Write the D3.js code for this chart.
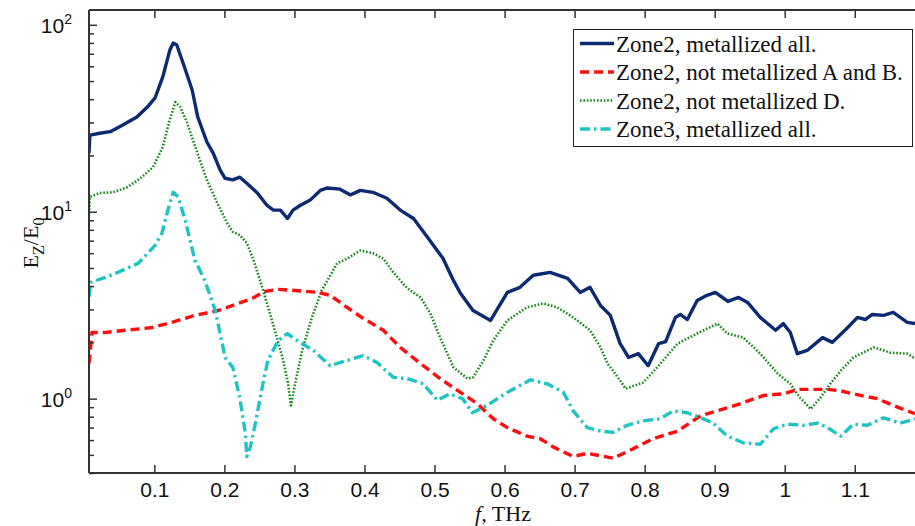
<!DOCTYPE html>
<html><head><meta charset="utf-8">
<script src="https://cdn.jsdelivr.net/npm/d3@7/dist/d3.min.js"></script>
<style>
html,body{margin:0;padding:0;background:#fff;}
svg{display:block;}
</style></head>
<body><svg id="chart" width="915" height="526"></svg>
<script>
// ---- data (frequency in THz, Ez/E0) ----
const fBlue = [0.0067,0.008,0.022,0.037,0.055,0.075,0.090,0.101,0.112,0.122,0.127,0.132,0.141,0.154,0.162,0.175,0.184,0.194,0.201,0.212,0.222,0.232,0.247,0.261,0.270,0.280,0.290,0.298,0.308,0.322,0.337,0.347,0.365,0.380,0.394,0.412,0.432,0.451,0.470,0.490,0.512,0.527,0.537,0.555,0.580,0.604,0.622,0.641,0.665,0.690,0.708,0.722,0.737,0.751,0.765,0.777,0.791,0.805,0.820,0.830,0.844,0.851,0.861,0.875,0.889,0.901,0.919,0.934,0.947,0.965,0.987,0.998,1.008,1.018,1.032,1.054,1.068,1.090,1.104,1.115,1.125,1.141,1.155,1.175,1.186];
const vBlue = [20.6,25.7,26.3,26.8,29.1,32.1,36.3,40.6,52.6,73,80,78,62.5,44.8,32.1,23.6,20.6,16.7,15.1,14.8,15.3,14.2,12.6,10.8,10.2,10.2,9.2,10.2,10.8,11.5,13.0,13.4,13.2,12.3,13.0,12.7,11.8,10.2,9.2,7.3,5.63,4.29,3.66,2.96,2.62,3.70,3.94,4.57,4.74,4.40,3.70,3.94,3.15,2.79,1.97,1.66,1.74,1.50,1.97,2.02,2.72,2.82,2.65,3.35,3.57,3.70,3.31,3.48,3.27,2.72,2.32,2.52,2.26,1.74,1.81,2.12,2.00,2.40,2.72,2.65,2.82,2.79,2.89,2.56,2.52];

const fRed = [0.0067,0.011,0.030,0.058,0.097,0.125,0.158,0.191,0.220,0.240,0.258,0.277,0.301,0.334,0.351,0.375,0.398,0.427,0.451,0.480,0.508,0.537,0.561,0.584,0.604,0.632,0.651,0.670,0.698,0.718,0.755,0.784,0.812,0.847,0.880,0.908,0.937,0.970,0.998,1.018,1.061,1.080,1.108,1.132,1.155,1.186];
const vRed = [1.54,2.26,2.26,2.32,2.40,2.56,2.79,2.96,3.23,3.44,3.75,3.84,3.79,3.70,3.57,3.08,2.69,2.32,1.88,1.54,1.28,1.08,0.94,0.78,0.70,0.63,0.61,0.55,0.49,0.51,0.48,0.54,0.61,0.67,0.81,0.87,0.94,1.04,1.06,1.12,1.12,1.10,1.04,1.00,0.92,0.83];

const fGreen = [0.0067,0.008,0.022,0.041,0.061,0.080,0.098,0.112,0.122,0.130,0.137,0.147,0.155,0.165,0.175,0.190,0.204,0.212,0.222,0.232,0.241,0.254,0.265,0.275,0.284,0.291,0.295,0.301,0.311,0.325,0.339,0.361,0.375,0.394,0.412,0.427,0.441,0.461,0.480,0.494,0.508,0.527,0.547,0.555,0.570,0.584,0.604,0.632,0.655,0.675,0.698,0.722,0.737,0.747,0.755,0.773,0.798,0.818,0.847,0.875,0.904,0.918,0.941,0.965,0.990,1.008,1.022,1.037,1.051,1.065,1.080,1.098,1.127,1.151,1.175,1.186];
const vGreen = [9.8,12.0,12.6,12.7,13.5,15.1,17.3,22.2,31.0,38.6,36.3,29.8,24.2,18.9,14.8,11.1,8.7,7.8,7.5,6.8,5.6,3.94,2.86,2.12,1.60,1.20,0.92,1.20,1.81,2.72,3.79,5.3,5.6,6.2,6.0,5.6,4.74,3.89,3.48,2.86,2.12,1.47,1.28,1.30,1.60,2.05,2.62,3.08,3.23,3.08,2.72,2.32,1.88,1.54,1.41,1.13,1.22,1.47,1.97,2.23,2.52,2.23,2.12,1.74,1.36,1.20,1.01,0.88,1.01,1.20,1.41,1.66,1.88,1.76,1.74,1.64];

const fCyan = [0.0067,0.009,0.030,0.048,0.077,0.101,0.111,0.122,0.127,0.134,0.144,0.158,0.172,0.187,0.201,0.212,0.222,0.230,0.232,0.237,0.244,0.254,0.262,0.277,0.290,0.298,0.308,0.327,0.351,0.375,0.398,0.418,0.441,0.461,0.484,0.504,0.522,0.540,0.554,0.575,0.604,0.637,0.661,0.684,0.698,0.718,0.737,0.755,0.775,0.798,0.822,0.841,0.861,0.880,0.898,0.918,0.941,0.965,0.984,1.004,1.027,1.047,1.061,1.080,1.098,1.118,1.141,1.165,1.186];
const vCyan = [3.5,4.19,4.45,4.74,5.3,6.6,7.7,11.1,12.7,12.0,9.0,5.5,4.29,2.96,1.66,1.47,1.01,0.65,0.49,0.55,0.73,1.15,1.60,2.05,2.23,2.12,2.00,1.81,1.50,1.60,1.70,1.56,1.30,1.28,1.20,0.98,1.06,1.00,0.84,0.92,1.08,1.26,1.20,1.08,0.86,0.70,0.67,0.66,0.72,0.76,0.78,0.86,0.84,0.79,0.74,0.63,0.58,0.57,0.69,0.73,0.72,0.74,0.70,0.63,0.73,0.72,0.79,0.74,0.78];

const seriesNames = ["Zone2, metallized all.","Zone2, not metallized A and B.","Zone2, not metallized D.","Zone3, metallized all."];
const xTicks = [0.1,0.2,0.3,0.4,0.5,0.6,0.7,0.8,0.9,1.0,1.1];
const xTickLabels = ["0.1","0.2","0.3","0.4","0.5","0.6","0.7","0.8","0.9","1","1.1"];
const yMajor = [1,10,100];
const yExp = ["0","1","2"];

// ---- layout ----
const W = 915, H = 526;
const L = 89, T = 10, R = 915, B = 473;
const svg = d3.select("#chart");

const x = d3.scaleLinear().domain([0.0067, 1.186]).range([L, R]);
const y = d3.scaleLog().domain([0.4, 120]).range([B, T]);

const styles = [
  {color:"#0b2a72", width:3.4, dash:null},
  {color:"#ff0d0d", width:3.4, dash:"9,5"},
  {color:"#148a14", width:2.6, dash:"1.6,1.8"},
  {color:"#1ec4c4", width:3.4, dash:"10,4,2.5,4"}
];
const data = [
  fBlue.map((f,i)=>[f,vBlue[i]]),
  fRed.map((f,i)=>[f,vRed[i]]),
  fGreen.map((f,i)=>[f,vGreen[i]]),
  fCyan.map((f,i)=>[f,vCyan[i]])
];

svg.append("defs").append("clipPath").attr("id","clip")
  .append("rect").attr("x",L).attr("y",T).attr("width",R-L).attr("height",B-T);

const line = d3.line().x(d=>x(d[0])).y(d=>y(d[1])).curve(d3.curveLinear);
const g = svg.append("g").attr("clip-path","url(#clip)");
[2,1,3,0].forEach(i=>{
  g.append("path").datum(data[i])
    .attr("d",line)
    .attr("fill","none")
    .attr("stroke",styles[i].color)
    .attr("stroke-width",styles[i].width)
    .attr("stroke-linejoin","round")
    .attr("stroke-dasharray",styles[i].dash);
});

// ---- axes ----
const axisColor = "#333";
const ax = svg.append("g");
const xb = ax.append("g").attr("transform",`translate(0,${B})`)
  .call(d3.axisBottom(x).tickValues(xTicks).tickSize(-8).tickPadding(9)
    .tickFormat((d,i)=>xTickLabels[i]));
const xt = ax.append("g").attr("transform",`translate(0,${T})`)
  .call(d3.axisTop(x).tickValues(xTicks).tickSize(-8).tickFormat(""));
const yl = ax.append("g").attr("transform",`translate(${L},0)`)
  .call(d3.axisLeft(y).tickValues(yMajor).tickSize(-8).tickFormat(""));
const minors = [];
[0.1,1,10,100].forEach(dec=>{ for(let k=2;k<=9;k++){ const v=dec*k; if(v>=0.4 && v<=120) minors.push(v);} });
const ym = ax.append("g").attr("transform",`translate(${L},0)`)
  .call(d3.axisLeft(y).tickValues(minors).tickSize(-5).tickFormat(""));

[xb,xt,yl,ym].forEach(a=>{
  a.select(".domain").attr("stroke",axisColor).attr("stroke-width",2);
  a.selectAll(".tick line").attr("stroke",axisColor).attr("stroke-width",1.5);
});
ym.select(".domain").remove();
xt.select(".domain").attr("d",`M${L},0H${R}`);
xb.select(".domain").attr("d",`M${L},0H${R}`);
yl.select(".domain").attr("d",`M0,${T}V${B}`);

xb.selectAll(".tick text")
  .attr("font-family","'Liberation Sans', Arial, sans-serif")
  .attr("font-size","21px").attr("fill","#111");

yMajor.forEach((v,i)=>{
  const t = svg.append("text")
    .attr("x",L-17).attr("y",y(v)+8)
    .attr("text-anchor","end")
    .attr("font-family","'Liberation Sans', Arial, sans-serif")
    .attr("font-size","21px").attr("fill","#111");
  t.append("tspan").text("10");
  t.append("tspan").attr("dy",-9).attr("font-size","14px").text(yExp[i]);
});

// axis titles
const xl = svg.append("text").attr("x",503).attr("y",521).attr("text-anchor","middle")
  .attr("font-family","'Liberation Serif', 'Times New Roman', serif")
  .attr("font-size","22px").attr("fill","#111");
xl.append("tspan").attr("font-style","italic").text("f");
xl.append("tspan").text(", THz");

const yt = svg.append("text").attr("transform","translate(38,243) rotate(-90)")
  .attr("text-anchor","middle")
  .attr("font-family","'Liberation Serif', 'Times New Roman', serif")
  .attr("font-size","22px").attr("fill","#111");
yt.append("tspan").text("E");
yt.append("tspan").attr("dy",6).attr("font-size","16px").text("Z");
yt.append("tspan").attr("dy",-6).text("/E");
yt.append("tspan").attr("dy",6).attr("font-size","16px").text("0");

// ---- legend ----
const lg = svg.append("g");
lg.append("rect").attr("x",573.5).attr("y",29.5).attr("width",339).attr("height",117)
  .attr("fill","#fff").attr("stroke","#222").attr("stroke-width",1);
seriesNames.forEach((name,i)=>{
  const yy = 43.5 + i*28.5;
  lg.append("line").attr("x1",580).attr("x2",614).attr("y1",yy).attr("y2",yy)
    .attr("stroke",styles[i].color).attr("stroke-width",styles[i].width)
    .attr("stroke-dasharray",styles[i].dash);
  lg.append("text").attr("x",616).attr("y",yy+8)
    .attr("font-family","'Liberation Serif', 'Times New Roman', serif")
    .attr("font-size","23px").attr("fill","#111").text(name);
});
</script>
</body></html>
